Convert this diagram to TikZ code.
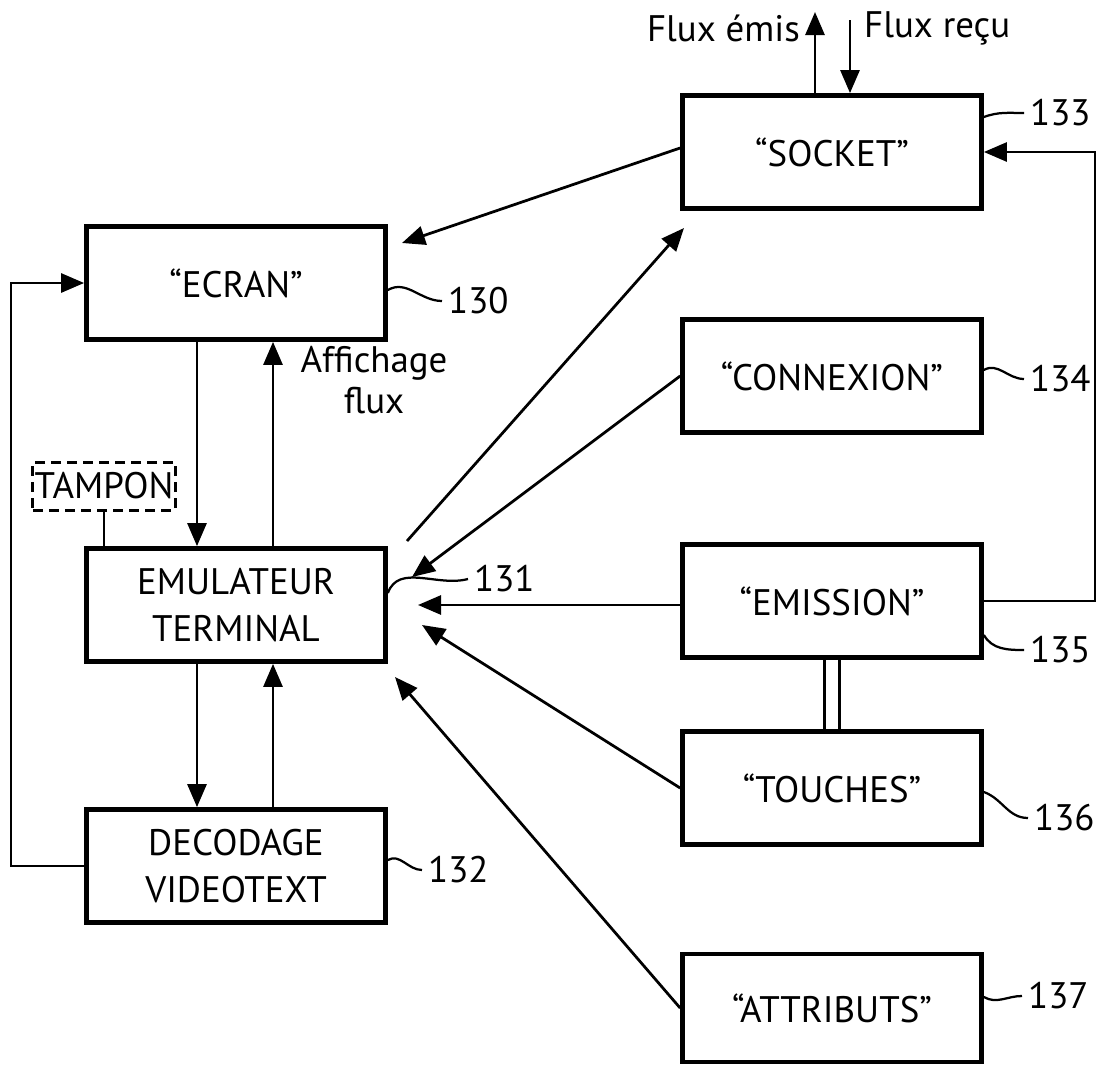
\documentclass[tikz,border=0pt]{standalone}
\usepackage{fontspec}
\setmainfont{PT Sans}
\usetikzlibrary{arrows.meta}

\begin{document}
\begin{tikzpicture}[x=0.2mm, y=-0.2mm,
    every node/.style={font=\fontsize{21}{27}\selectfont},
    bloc/.style={draw, line width=0.95mm, minimum width=59.8mm, minimum height=22.6mm, align=center, inner sep=0pt},
    tampon/.style={draw, line width=0.6mm, dash pattern=on 2mm off 1.2mm, minimum width=28.4mm, minimum height=9.6mm, inner sep=0pt},
    trait/.style={line width=0.55mm},
    fleche/.style={trait, -{Triangle[length=4.6mm, width=3.8mm]}},
    repere/.style={line width=0.45mm}]
    \useasboundingbox (0,0) rectangle (1098,1065);

    % Blocs de gauche
    \node[bloc] (ecran) at (236,283) {“ECRAN”};
    \node[bloc] (emul) at (236,605) {EMULATEUR\\TERMINAL};
    \node[bloc] (decod) at (236,866) {DECODAGE\\VIDEOTEXT};
    \node[tampon] (tamp) at (104,486) {TAMPON};

    % Blocs de droite
    \node[bloc] (socket) at (832,152) {“SOCKET”};
    \node[bloc] (connex) at (832,376) {“CONNEXION”};
    \node[bloc] (emiss) at (832,601) {“EMISSION”};
    \node[bloc] (touches) at (832,788) {“TOUCHES”};
    \node[bloc, minimum height=21.6mm] (attrib) at (832,1008) {“ATTRIBUTS”};

    % Textes
    \node[align=center, font=\fontsize{21}{23}\selectfont] (affich) at (374,380) {Affichage\\flux};
    \node[anchor=east] (emis) at (806,28) {Flux émis};
    \node[anchor=west] (recu) at (858,28) {Flux reçu};

    % Repères
    \node[anchor=west] (n130) at (442,301) {130};
    \node[anchor=west] (n131) at (468,579) {131};
    \node[anchor=west] (n132) at (422,870) {132};
    \node[anchor=west] (n133) at (1024,113) {133};
    \node[anchor=west] (n134) at (1024,379) {134};
    \node[anchor=west] (n135) at (1024,650) {135};
    \node[anchor=west] (n136) at (1028,818) {136};
    \node[anchor=west] (n137) at (1022,996) {137};
    \draw[repere] ([yshift=-1.4mm]ecran.east) to[out=30, in=180] (n130.west);
    \draw[repere] ([yshift=2.4mm]emul.east) to[out=70, in=195] (n131.west);
    \draw[repere] ([yshift=1.2mm]decod.east) to[out=30, in=180] (n132.west);
    \draw[repere] ([yshift=7mm]socket.east) to[out=20, in=180] (n133.west);
    \draw[repere] ([yshift=1.2mm]connex.east) to[out=30, in=180] (n134.west);
    \draw[repere] ([yshift=-6.8mm]emiss.east) to[out=-60, in=180] (n135.west);
    \draw[repere] ([yshift=-0.8mm]touches.east) to[out=-20, in=180] (n136.west);
    \draw[repere] ([yshift=2.2mm]attrib.east) to[out=-30, in=180] (n137.west);

    % Points libres
    \coordinate (xg) at (197,0);
    \coordinate (xd) at (273,0);
    \coordinate (fluxout) at (815,12);
    \coordinate (fluxin) at (850,20);
    \coordinate (versecran) at (402,243);
    \coordinate (depemul) at (407,541);
    \coordinate (verssocket) at (684,228);
    \coordinate (tipA) at (412,577);
    \coordinate (tipB) at (418,605);
    \coordinate (tipC) at (422,625);
    \coordinate (tipD) at (395,677);

    % Liaisons à gauche
    \draw[fleche] (ecran.south -| xg) -- (emul.north -| xg);
    \draw[fleche] (emul.north -| xd) -- (ecran.south -| xd);
    \draw[fleche] (emul.south -| xg) -- (decod.north -| xg);
    \draw[fleche] (decod.north -| xd) -- (emul.south -| xd);
    \draw[fleche] (decod.west) -- ++(-73,0) |- (ecran.west);
    \draw[trait] (tamp.south) -- (tamp.south |- emul.north);

    % Liaisons à droite
    \draw[fleche] (socket.north -| fluxout) -- (fluxout);
    \draw[fleche] (fluxin) -- (socket.north -| fluxin);
    \draw[fleche] ([yshift=0.8mm]socket.west) -- (versecran);
    \draw[fleche] (depemul) -- (verssocket);
    \draw[fleche] (connex.west) -- (tipA);
    \draw[fleche] (emiss.west |- tipB) -- (tipB);
    \draw[fleche] (touches.west) -- (tipC);
    \draw[fleche] (attrib.west) -- (tipD);
    \draw[fleche] (emiss.east) -- ++(111,0) |- (socket.east);
    \draw[trait, double, double distance=2.4mm] (emiss.south) -- (touches.north);
\end{tikzpicture}
\end{document}
